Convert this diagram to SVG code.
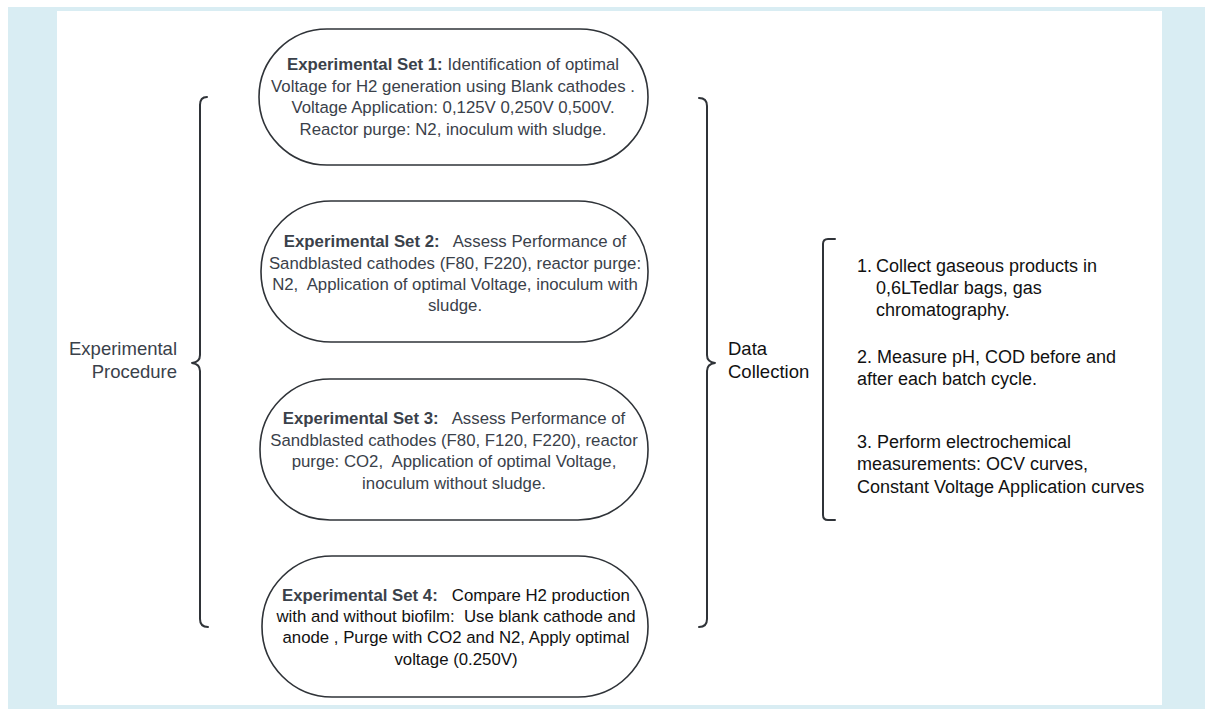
<svg xmlns="http://www.w3.org/2000/svg" width="1205" height="709" viewBox="0 0 1205 709">
<style>
.node{fill:#ffffff;stroke:#2f3338;stroke-width:1.6}
.brace{fill:none;stroke:#2f3338;stroke-width:2;stroke-linecap:round;stroke-linejoin:round}
.t{font-family:"Liberation Sans",Arial,sans-serif;font-size:16.8px;fill:#3a414a;text-anchor:middle;white-space:pre}
.t4{fill:#111111}
.b{font-weight:bold;fill:#3a414a}
.lbl{font-family:"Liberation Sans",Arial,sans-serif;font-size:18.5px;fill:#3a414a}
.lst{font-family:"Liberation Sans",Arial,sans-serif;font-size:18px;fill:#111111;white-space:pre}
</style>
<rect x="0" y="0" width="1205" height="709" fill="#ffffff"/>
<rect x="8" y="7" width="1197" height="702" fill="#d9edf3"/>
<rect x="57" y="11" width="1105" height="694" fill="#ffffff"/>

<g id="connectors">
<path class="brace" d="M207 97 Q200 97 200 105 L200 355 Q200 362 192 363 Q200 364 200 371 L200 619 Q200 627 208 627"/>
<path class="brace" d="M699 98 Q707 98 707 106 L707 355 Q707 362 715 363 Q707 364 707 371 L707 619 Q707 627 699 627"/>
<path class="brace" d="M835 239 L828 239 Q823 239 823 244 L823 515 Q823 520 828 520 L835 520"/>
</g>

<g id="label-procedure">
<text class="lbl" x="177" y="355" text-anchor="end">Experimental</text>
<text class="lbl" x="177" y="378" text-anchor="end">Procedure</text>
</g>

<g id="node1">
<rect class="node" x="259" y="29" width="389" height="136" rx="68" ry="68"/>
<text class="t" x="453" y="70"><tspan class="b">Experimental Set 1:</tspan> Identification of optimal</text>
<text class="t" x="453" y="92">Voltage for H2 generation using Blank cathodes .</text>
<text class="t" x="453" y="113">Voltage Application: 0,125V 0,250V 0,500V.</text>
<text class="t" x="453" y="135">Reactor purge: N2, inoculum with sludge.</text>
</g>

<g id="node2">
<rect class="node" x="261" y="201" width="387" height="141" rx="70" ry="70"/>
<text class="t" x="455" y="247"><tspan class="b">Experimental Set 2:</tspan>   Assess Performance of</text>
<text class="t" x="455" y="269">Sandblasted cathodes (F80, F220), reactor purge:</text>
<text class="t" x="455" y="290">N2,  Application of optimal Voltage, inoculum with</text>
<text class="t" x="455" y="311">sludge.</text>
</g>

<g id="node3">
<rect class="node" x="260" y="379" width="388" height="141" rx="70" ry="70"/>
<text class="t" x="454" y="424"><tspan class="b">Experimental Set 3:</tspan>   Assess Performance of</text>
<text class="t" x="454" y="446">Sandblasted cathodes (F80, F120, F220), reactor</text>
<text class="t" x="454" y="467">purge: CO2,  Application of optimal Voltage,</text>
<text class="t" x="454" y="489">inoculum without sludge.</text>
</g>

<g id="node4">
<rect class="node" x="262" y="556" width="386" height="141" rx="70" ry="70"/>
<text class="t t4" x="456" y="601"><tspan class="b">Experimental Set 4:</tspan>   Compare H2 production</text>
<text class="t t4" x="456" y="622">with and without biofilm:  Use blank cathode and</text>
<text class="t t4" x="456" y="643">anode , Purge with CO2 and N2, Apply optimal</text>
<text class="t t4" x="456" y="665">voltage (0.250V)</text>
</g>

<g id="label-data">
<text class="lbl" x="728" y="355" fill="#111111" style="fill:#111111">Data</text>
<text class="lbl" x="728" y="378" style="fill:#111111">Collection</text>
</g>

<g id="data-list">
<text class="lst" x="857" y="272">1.</text>
<text class="lst" x="876" y="272">Collect gaseous products in</text>
<text class="lst" x="876" y="294">0,6LTedlar bags, gas</text>
<text class="lst" x="876" y="316">chromatography.</text>
<text class="lst" x="857" y="363">2. Measure pH, COD before and</text>
<text class="lst" x="857" y="385">after each batch cycle.</text>
<text class="lst" x="857" y="448">3. Perform electrochemical</text>
<text class="lst" x="857" y="470">measurements: OCV curves,</text>
<text class="lst" x="857" y="493">Constant Voltage Application curves</text>
</g>
</svg>
